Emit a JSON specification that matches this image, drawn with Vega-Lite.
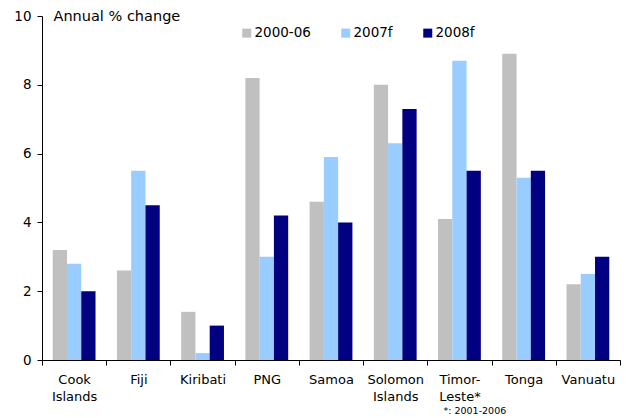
{
  "$schema": "https://vega.github.io/schema/vega-lite/v6.json",
  "autosize": "none",
  "width": 578,
  "height": 344,
  "padding": {"left": 42, "top": 16, "right": 6, "bottom": 58},
  "background": "white",
  "config": {
    "view": {"stroke": null},
    "font": "DejaVu Sans",
    "axis": {"labelFont": "DejaVu Sans", "titleFont": "DejaVu Sans", "labelColor": "#000", "titleColor": "#000", "domainColor": "#000", "tickColor": "#000"}
  },
  "data": {
    "values": [
      {"country": "Cook|Islands", "series": "2000-06", "value": 3.2},
      {"country": "Cook|Islands", "series": "2007f", "value": 2.8},
      {"country": "Cook|Islands", "series": "2008f", "value": 2.0},
      {"country": "Fiji", "series": "2000-06", "value": 2.6},
      {"country": "Fiji", "series": "2007f", "value": 5.5},
      {"country": "Fiji", "series": "2008f", "value": 4.5},
      {"country": "Kiribati", "series": "2000-06", "value": 1.4},
      {"country": "Kiribati", "series": "2007f", "value": 0.2},
      {"country": "Kiribati", "series": "2008f", "value": 1.0},
      {"country": "PNG", "series": "2000-06", "value": 8.2},
      {"country": "PNG", "series": "2007f", "value": 3.0},
      {"country": "PNG", "series": "2008f", "value": 4.2},
      {"country": "Samoa", "series": "2000-06", "value": 4.6},
      {"country": "Samoa", "series": "2007f", "value": 5.9},
      {"country": "Samoa", "series": "2008f", "value": 4.0},
      {"country": "Solomon|Islands", "series": "2000-06", "value": 8.0},
      {"country": "Solomon|Islands", "series": "2007f", "value": 6.3},
      {"country": "Solomon|Islands", "series": "2008f", "value": 7.3},
      {"country": "Timor-|Leste*", "series": "2000-06", "value": 4.1},
      {"country": "Timor-|Leste*", "series": "2007f", "value": 8.7},
      {"country": "Timor-|Leste*", "series": "2008f", "value": 5.5},
      {"country": "Tonga", "series": "2000-06", "value": 8.9},
      {"country": "Tonga", "series": "2007f", "value": 5.3},
      {"country": "Tonga", "series": "2008f", "value": 5.5},
      {"country": "Vanuatu", "series": "2000-06", "value": 2.2},
      {"country": "Vanuatu", "series": "2007f", "value": 2.5},
      {"country": "Vanuatu", "series": "2008f", "value": 3.0}
    ]
  },
  "mark": {"type": "bar"},
  "encoding": {
    "x": {
      "field": "country", "type": "nominal", "sort": null,
      "scale": {"paddingInner": 0, "paddingOuter": 0},
      "axis": {
        "labelAngle": 0, "labelFontSize": 13, "labelExpr": "split(datum.label, '|')",
        "labelLineHeight": 17, "labelPadding": 8, "tickBand": "extent", "tickSize": 5,
        "title": "*: 2001-2006", "titleFontSize": 9.5, "titleFontWeight": "normal",
        "titleAnchor": "start", "titleAlign": "left", "titleX": 401, "titleY": 50, "titleBaseline": "middle"
      }
    },
    "xOffset": {"field": "series", "type": "nominal", "scale": {"paddingInner": 0, "paddingOuter": 0.75}},
    "y": {
      "field": "value", "type": "quantitative",
      "scale": {"domain": [0, 10], "nice": false},
      "axis": {
        "values": [0, 2, 4, 6, 8, 10], "grid": false, "labelFontSize": 13.5, "tickSize": 5, "labelPadding": 6,
        "title": "Annual % change", "titleAngle": 0, "titleFontSize": 14.5, "titleFontWeight": "normal",
        "titleAlign": "left", "titleBaseline": "middle", "titleX": 11, "titleY": 0
      }
    },
    "color": {
      "field": "series", "type": "nominal",
      "scale": {"domain": ["2000-06", "2007f", "2008f"], "range": ["#C0C0C0", "#99CCFF", "#000080"]},
      "legend": {
        "title": null, "orient": "none", "direction": "horizontal", "legendX": 198, "legendY": 10,
        "symbolType": "square", "symbolSize": 81, "symbolStrokeWidth": 0, "labelFontSize": 13.5,
        "labelOffset": 1, "columnPadding": 28, "labelColor": "#000"
      }
    }
  }
}
